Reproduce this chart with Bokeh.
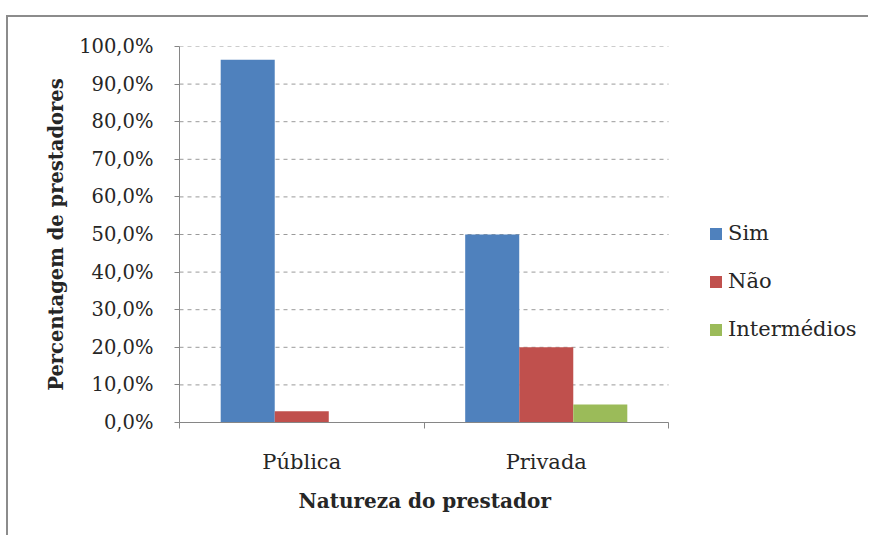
from bokeh.plotting import figure
from bokeh.models import (Range1d, LinearAxis, FixedTicker, Title,
                          Legend, LegendItem, ColumnDataSource)
from bokeh.transform import dodge
from bokeh.embed import file_html
from bokeh.resources import INLINE

# Data: share of providers by provider type (percent)
categories = ["Pública", "Privada"]
sim = [96.5, 50.0]
nao = [3.0, 20.0]
intermedios = [0.0, 4.8]
series_names = ["Sim", "Não", "Intermédios"]
series_colors = ["#4F81BD", "#C0504D", "#9BBB59"]
y_ticks = [0, 10, 20, 30, 40, 50, 60, 70, 80, 90, 100]
y_tick_labels = ["0,0%", "10,0%", "20,0%", "30,0%", "40,0%", "50,0%",
                 "60,0%", "70,0%", "80,0%", "90,0%", "100,0%"]

FONT = "DejaVu Serif"
TEXT = "#262626"
AXIS = "#868686"

n = len(categories)
centres = [i + 0.5 for i in range(n)]
source = ColumnDataSource(data=dict(x=centres, sim=sim, nao=nao, inter=intermedios))

# the frame runs on to the right edge so the legend can sit inside it;
# the category area itself covers 0..n
x_end = n * (870 - 179) / (668 - 179)

p = figure(
    x_range=Range1d(0, x_end),
    y_range=Range1d(0, 100),
    width=862, height=520,
    output_backend="svg", toolbar_location=None,
    x_axis_location=None,
    min_border_left=171, min_border_right=0,
    min_border_top=29, min_border_bottom=115,
)
# chart-area frame: grey rule along the top and left edges
p.margin = (15, 0, 0, 6)
p.styles = {"border-top": "2px solid #8c8c8c", "border-left": "2px solid #8c8c8c"}
p.outline_line_color = None
p.background_fill_color = "white"
p.border_fill_color = "white"
p.xgrid.visible = False
p.ygrid.visible = False

# dashed horizontal gridlines across the category area
p.segment(x0=[0] * len(y_ticks), x1=[n] * len(y_ticks), y0=y_ticks, y1=y_ticks,
          line_color="#9a9a9a", line_dash="4 4", line_width=1)

bar_w = 0.221
cols = ["sim", "nao", "inter"]
offsets = [-bar_w, 0.0, bar_w]
renderers = []
for col, off, color in zip(cols, offsets, series_colors):
    r = p.vbar(x=dodge("x", off), top=col, width=bar_w,
               source=source, fill_color=color, line_color=None)
    renderers.append(r)

# Y axis
yax = p.yaxis[0]
yax.ticker = FixedTicker(ticks=y_ticks)
yax.major_label_overrides = {t: lab for t, lab in zip(y_ticks, y_tick_labels)}
yax.minor_tick_line_color = None
yax.major_tick_in = 0
yax.major_tick_out = 5
yax.major_tick_line_color = AXIS
yax.axis_line_color = AXIS
yax.major_label_standoff = 21
yax.major_label_text_font = FONT
yax.major_label_text_font_size = "19.5px"
yax.major_label_text_color = TEXT
yax.axis_label = "Percentagem de prestadores"
yax.axis_label_text_font = FONT
yax.axis_label_text_font_style = "bold"
yax.axis_label_text_font_size = "19.5px"
yax.axis_label_text_color = TEXT
yax.axis_label_standoff = 8

# X axis: labels at category centres, ticks at category boundaries
xax = LinearAxis(
    ticker=FixedTicker(ticks=centres, minor_ticks=list(range(n + 1))),
    major_label_overrides={c: name for c, name in zip(centres, categories)},
    bounds=(0, n),
)
xax.axis_line_color = AXIS
xax.major_tick_in = 0
xax.major_tick_out = 0
xax.minor_tick_in = 0
xax.minor_tick_out = 6
xax.minor_tick_line_color = AXIS
xax.major_label_standoff = 21
xax.major_label_text_font = FONT
xax.major_label_text_font_size = "21px"
xax.major_label_text_color = TEXT
p.add_layout(xax, "below")

# x-axis title, centred under the category area
p.add_layout(Title(
    text="Natureza do prestador", align="left", offset=119, standoff=20,
    text_font=FONT, text_font_size="20px", text_font_style="bold", text_color=TEXT,
), "below")

legend = Legend(
    items=[LegendItem(label=name, renderers=[r]) for name, r in zip(series_names, renderers)],
    location=(529, 81),
    orientation="vertical",
    glyph_width=15, glyph_height=15,
    label_standoff=5,
    spacing=24,
    padding=0, margin=0,
    border_line_color=None,
    background_fill_alpha=0,
    label_text_font=FONT,
    label_text_font_size="21px",
    label_text_color=TEXT,
)
p.add_layout(legend)

open("out.html", "w").write(file_html(p, INLINE))
